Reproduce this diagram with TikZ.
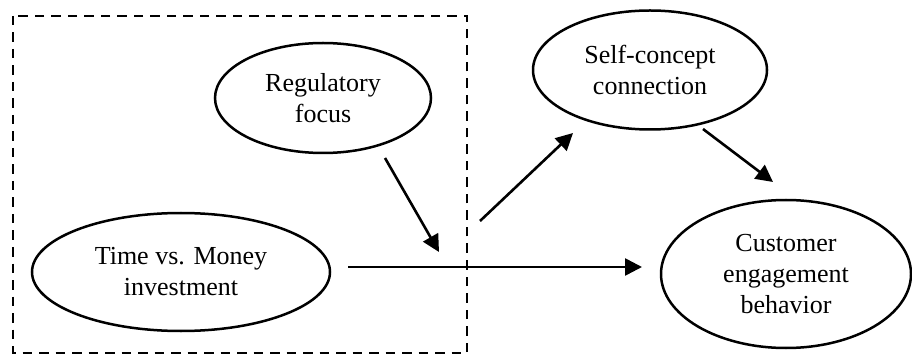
\documentclass[tikz,border=0pt]{standalone}
\usepackage{fontspec}
\setmainfont{Liberation Serif}
\usetikzlibrary{arrows.meta,shapes.geometric}
\begin{document}
\begin{tikzpicture}[x=1pt,y=-1pt,
  oval/.style={draw,ellipse,line width=2.5pt,inner sep=0pt,align=center,
    font=\fontsize{26}{31}\selectfont},
  arr/.style={line width=2.6pt,-{Triangle[length=17pt,width=17pt]}},
  box/.style={line width=2.6pt,dash pattern=on 9.5pt off 7pt}]
\useasboundingbox (0,0) rectangle (912,355);
\draw[box] (13,16) rectangle (467,353);
\node[oval,minimum width=216pt,minimum height=110pt] (rf) at (323,98) {Regulatory\\focus};
\node[oval,minimum width=298pt,minimum height=118pt] (tm) at (181,272) {Time vs. Money\\investment};
\node[oval,minimum width=234pt,minimum height=119pt] (sc) at (650,70) {Self-concept\\connection};
\node[oval,minimum width=250pt,minimum height=148pt] (ceb) at (786,274) {Customer\\engagement\\behavior};
\coordinate (rfs) at (385,158);
\coordinate (mod) at (439,252);
\coordinate (hs) at (348,267);
\coordinate (he) at (642,267);
\coordinate (ms) at (480,221);
\coordinate (sce) at (573,133);
\coordinate (scs) at (703,129);
\coordinate (cebe) at (773,182);
\draw[arr] (rfs) -- (mod);
\draw[arr] (hs) -- (he);
\draw[arr] (ms) -- (sce);
\draw[arr] (scs) -- (cebe);
\end{tikzpicture}
\end{document}
